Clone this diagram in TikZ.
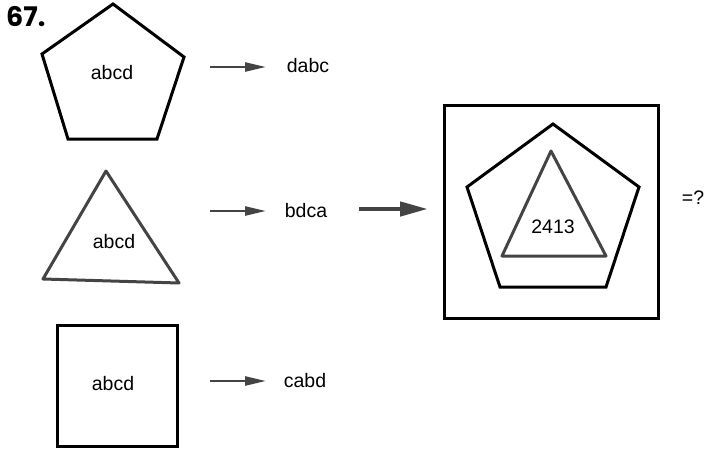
\documentclass[tikz,border=0pt]{standalone}
\usepackage{fontspec}
\setmainfont{Liberation Sans}
\newfontfamily\numfont{Poppins}
\usetikzlibrary{arrows.meta}
\definecolor{darkg}{HTML}{444444}
\tikzset{
  shapeline/.style={line width=3pt, line join=miter},
  grayshape/.style={line width=3pt, draw=darkg, line join=round},
  lbl/.style={font=\fontsize{19.5}{22}\selectfont, inner sep=0pt},
  smallarrow/.style={draw=darkg, line width=2.4pt, -{Triangle[length=21pt,width=9pt]}, fill=darkg},
  bigarrow/.style={draw=darkg, line width=4.5pt, -{Triangle[length=28pt,width=14pt]}, fill=darkg},
}
\begin{document}
\begin{tikzpicture}[x=1pt,y=-1pt]
\useasboundingbox (0,0) rectangle (706,450);
\node[font=\fontsize{27}{30}\selectfont\numfont\bfseries, inner sep=0pt, anchor=base west] (num) at (6,26) {67.};
% pentagon 1
\draw[shapeline] (113,4) -- (184,57) -- (157,139) -- (68,139) -- (42,54) -- cycle;
\node[lbl] (t1) at (112,73) {abcd};
% triangle
\draw[grayshape] (106,171) -- (179,283) -- (43,279) -- cycle;
\node[lbl] (t2) at (114,242) {abcd};
% square
\draw[shapeline] (57,325) rectangle (177,446);
\node[lbl] (t3) at (113,384) {abcd};
% arrows and results
\coordinate (a1s) at (210,67); \coordinate (a1e) at (266,67);
\coordinate (a2s) at (210,211); \coordinate (a2e) at (266,211);
\coordinate (a3s) at (210,381); \coordinate (a3e) at (266,381);
\coordinate (bs) at (359,209); \coordinate (be) at (428,209);
\draw[smallarrow] (a1s) -- (a1e);
\draw[smallarrow] (a2s) -- (a2e);
\draw[smallarrow] (a3s) -- (a3e);
\draw[bigarrow] (bs) -- (be);
\node[lbl] (r1) at (308,66) {dabc};
\node[lbl] (r2) at (306,211) {bdca};
\node[lbl] (r3) at (305,381) {cabd};
% combined figure
\draw[shapeline] (444,105) rectangle (658,318);
\draw[shapeline] (553,124) -- (639,187) -- (606,287) -- (500,287) -- (467,187) -- cycle;
\draw[grayshape] (551,151) -- (606,256) -- (502,256) -- cycle;
\node[lbl] (r4) at (553,227) {2413};
\node[lbl] (q) at (693,198) {=?};
\end{tikzpicture}
\end{document}
